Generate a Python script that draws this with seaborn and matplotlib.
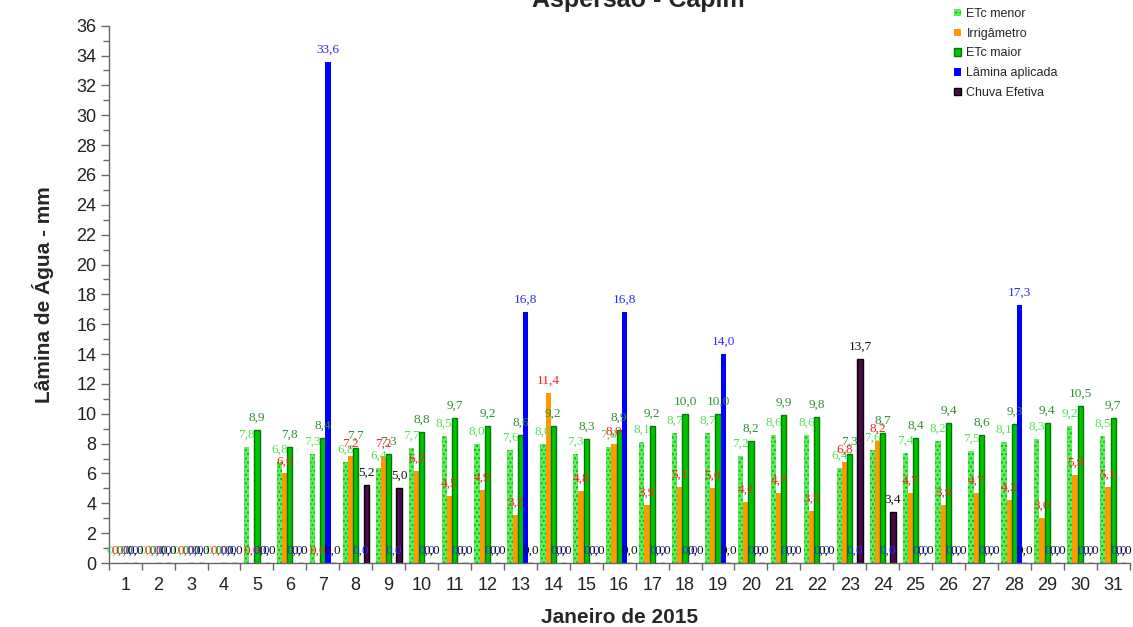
import numpy as np
import pandas as pd
import matplotlib
matplotlib.use("Agg")
import matplotlib.pyplot as plt
from matplotlib.patches import Patch
from matplotlib.ticker import MultipleLocator, FixedLocator
import seaborn as sns

# ---------------- data ----------------
days = [str(d) for d in range(1, 32)]
series_names = ["ETc menor", "Irrigâmetro", "ETc maior", "Lâmina aplicada", "Chuva Efetiva"]

etc_menor = [0, 0, 0, 0, 7.8, 6.8, 7.3, 6.8, 6.4, 7.7, 8.5, 8.0, 7.6, 8.0, 7.3, 7.8,
             8.1, 8.7, 8.7, 7.2, 8.6, 8.6, 6.4, 7.6, 7.4, 8.2, 7.5, 8.1, 8.3, 9.2, 8.5]
irrigametro = [0, 0, 0, 0, 0, 6.0, 0, 7.2, 7.2, 6.2, 4.5, 4.9, 3.2, 11.4, 4.8, 8.0,
               3.9, 5.1, 5.0, 4.1, 4.7, 3.5, 6.8, 8.2, 4.7, 3.9, 4.7, 4.2, 3.0, 5.9, 5.1]
etc_maior = [0, 0, 0, 0, 8.9, 7.8, 8.4, 7.7, 7.3, 8.8, 9.7, 9.2, 8.6, 9.2, 8.3, 8.9,
             9.2, 10.0, 10.0, 8.2, 9.9, 9.8, 7.3, 8.7, 8.4, 9.4, 8.6, 9.3, 9.4, 10.5, 9.7]
lamina_aplicada = [0, 0, 0, 0, 0, 0, 33.6, 0, 0, 0, 0, 0, 16.8, 0, 0, 16.8,
                   0, 0, 14.0, 0, 0, 0, 0, 0, 0, 0, 0, 17.3, 0, 0, 0]
chuva_efetiva = [0, 0, 0, 0, 0, 0, 0, 5.2, 5.0, 0, 0, 0, 0, 0, 0, 0,
                 0, 0, 0, 0, 0, 0, 13.7, 3.4, 0, 0, 0, 0, 0, 0, 0]

title = "Aspersão - Capim"
xlabel = "Janeiro de 2015"
ylabel = "Lâmina de Água - mm"

# ---------------- styles ----------------
bar_colors = ["#5cf25c", "#ff9900", "#00c400", "#0000ff", "#4a0a4a"]
label_colors = ["#55e055", "#ff2020", "#2f8f2f", "#2a2aff", "#111111"]

sns.set_style("ticks")
plt.rcParams["font.family"] = ["Liberation Sans", "DejaVu Sans"]
plt.rcParams["hatch.linewidth"] = 1.0

df = pd.DataFrame({
    "day": days * 5,
    "series": sum([[s] * len(days) for s in series_names], []),
    "value": etc_menor + irrigametro + etc_maior + lamina_aplicada + chuva_efetiva,
})

fig = plt.figure(figsize=(11.33, 6.27), dpi=100)
ax = fig.add_axes([0.096, 0.102, 0.901, 0.857])

sns.barplot(data=df, x="day", y="value", hue="series", order=days,
            hue_order=series_names, palette=bar_colors, width=0.79, gap=0,
            saturation=1, errorbar=None, legend=False, ax=ax)

for i, cont in enumerate(ax.containers):
    for p in cont:
        if i == 0:
            p.set_facecolor(bar_colors[0])
            p.set_hatch("....")
            p.set_edgecolor("#1faa1f")
            p.set_linewidth(0)
        elif i == 2:
            p.set_edgecolor("#007a00")
            p.set_linewidth(1.0)
        elif i == 4:
            p.set_edgecolor("black")
            p.set_linewidth(1.0)
        else:
            p.set_linewidth(0)
    labels = [f"{v:.1f}".replace(".", ",") for v in cont.datavalues]
    ax.bar_label(cont, labels=labels, padding=4.5, color=label_colors[i],
                 fontsize=9.5, family="Liberation Serif")

ax.set_xlim(-0.5, 30.5)
ax.set_ylim(0, 36)
ax.yaxis.set_major_locator(MultipleLocator(2))
ax.yaxis.set_minor_locator(MultipleLocator(1))
ax.xaxis.set_minor_locator(FixedLocator(np.arange(-0.5, 31, 1)))
ax.tick_params(axis="x", which="major", length=0, labelsize=13, pad=10, colors="#222222")
ax.tick_params(axis="x", which="minor", length=5, width=1, color="#666666")
ax.tick_params(axis="y", which="major", length=6, width=1, color="#666666",
               labelsize=13, labelcolor="#222222", pad=3)
ax.tick_params(axis="y", which="minor", length=4, width=1, color="#666666")

sns.despine(ax=ax)
for s in ["left", "bottom"]:
    ax.spines[s].set_color("#666666")
    ax.spines[s].set_linewidth(1)

ax.set_xlabel(xlabel, fontsize=15, fontweight="bold", labelpad=10)
ax.set_ylabel(ylabel, fontsize=15, fontweight="bold", labelpad=16)

fig.text(0.563, 1 - 7 / 627, title, ha="center", va="baseline",
         fontsize=18, fontweight="bold")

handles = [
    Patch(facecolor=bar_colors[0], hatch="....", edgecolor="#1faa1f", linewidth=0),
    Patch(facecolor=bar_colors[1], linewidth=0),
    Patch(facecolor=bar_colors[2], edgecolor="#007a00", linewidth=1),
    Patch(facecolor=bar_colors[3], linewidth=0),
    Patch(facecolor=bar_colors[4], edgecolor="black", linewidth=1),
]
fig.legend(handles, series_names, loc="upper left",
           bbox_to_anchor=(954 / 1133, 1 - 8 / 627), frameon=False,
           fontsize=9, handlelength=0.55, handleheight=0.55,
           handletextpad=0.45, labelspacing=0.62, borderpad=0, borderaxespad=0)

fig.savefig("out.png", dpi=100)
